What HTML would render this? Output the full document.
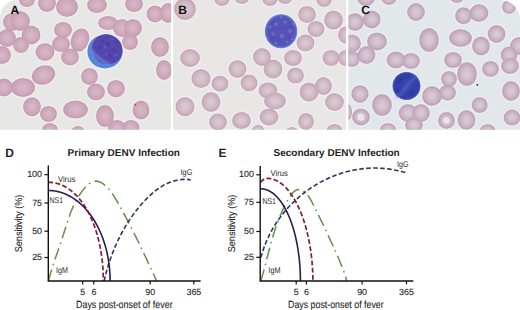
<!DOCTYPE html>
<html><head><meta charset="utf-8"><style>
html,body{margin:0;padding:0;background:#fff;width:520px;height:310px;overflow:hidden}
svg{display:block}
</style></head><body>
<svg width="520" height="310" viewBox="0 0 520 310" font-family="'Liberation Sans', sans-serif" text-rendering="geometricPrecision">
<defs>
<filter id="soft" x="-5%" y="-5%" width="110%" height="110%"><feGaussianBlur stdDeviation="0.45"/></filter>
<filter id="blur1" x="-20%" y="-20%" width="140%" height="140%"><feGaussianBlur stdDeviation="1"/></filter>
<filter id="soft2" x="-10%" y="-10%" width="120%" height="120%"><feGaussianBlur stdDeviation="0.6"/></filter>
<radialGradient id="rbcA" cx="50%" cy="50%" r="50%">
<stop offset="0" stop-color="#d8bac8"/><stop offset="0.45" stop-color="#d2afc0"/><stop offset="0.78" stop-color="#cba5b8"/><stop offset="0.93" stop-color="#c49bb1"/><stop offset="1" stop-color="#cfb1c1"/>
</radialGradient>
<radialGradient id="rbc" cx="50%" cy="50%" r="50%">
<stop offset="0" stop-color="#dccdd3"/><stop offset="0.45" stop-color="#d4bfc9"/><stop offset="0.78" stop-color="#cbb0bf"/><stop offset="0.93" stop-color="#c4a6b9"/><stop offset="1" stop-color="#cfbcc8"/>
</radialGradient>
<radialGradient id="rbcC" cx="50%" cy="50%" r="50%">
<stop offset="0" stop-color="#dacdd6"/><stop offset="0.45" stop-color="#d1bfcc"/><stop offset="0.75" stop-color="#c7adc0"/><stop offset="0.9" stop-color="#c0a2b8"/><stop offset="1" stop-color="#cab6c6"/>
</radialGradient>
<radialGradient id="lymA" cx="60%" cy="40%" r="60%">
<stop offset="0" stop-color="#5648ae"/><stop offset="0.8" stop-color="#5043a8"/><stop offset="1" stop-color="#4c48b0"/>
</radialGradient>
<radialGradient id="lymB" cx="50%" cy="50%" r="50%">
<stop offset="0" stop-color="#5a54b8"/><stop offset="0.78" stop-color="#5552b6"/><stop offset="0.9" stop-color="#5a64c4"/><stop offset="0.97" stop-color="#7a90da"/><stop offset="1" stop-color="#b8c6ea"/>
</radialGradient>
<radialGradient id="lymC" cx="50%" cy="50%" r="50%">
<stop offset="0" stop-color="#3d48b4"/><stop offset="0.78" stop-color="#343ea8"/><stop offset="0.9" stop-color="#3a46b0"/><stop offset="0.97" stop-color="#6478c8"/><stop offset="1" stop-color="#c0cdea"/>
</radialGradient>
<clipPath id="cA"><path d="M0,18 A18,18 0 0 1 18,0 H171.1 V129.8 H0 Z"/></clipPath>
<clipPath id="cB"><rect x="173.1" y="0" width="172.9" height="129.8"/></clipPath>
<clipPath id="cC"><path d="M348.4,0 H500 A20,20 0 0 1 520,20 V129.8 H348.4 Z"/></clipPath>
</defs>
<rect width="520" height="310" fill="#fff"/>

<g clip-path="url(#cA)"><rect width="520" height="140" fill="#e7e8e6"/>
<g opacity="0.75">
<ellipse cx="27" cy="0" rx="9.3" ry="8.3" fill="#f1eff0"/>
<ellipse cx="47" cy="3" rx="10.3" ry="10.3" fill="#f1eff0"/>
<ellipse cx="67" cy="7" rx="12.3" ry="11.3" fill="#f1eff0"/>
<ellipse cx="12" cy="22" rx="10.3" ry="10.3" fill="#f1eff0"/>
<ellipse cx="20" cy="21" rx="11.3" ry="11.3" fill="#f1eff0"/>
<ellipse cx="7" cy="38" rx="10.3" ry="10.3" fill="#f1eff0"/>
<ellipse cx="31" cy="35" rx="10.8" ry="10.8" fill="#f1eff0"/>
<ellipse cx="21" cy="45" rx="9.3" ry="9.3" fill="#f1eff0"/>
<ellipse cx="2" cy="55" rx="10.3" ry="10.3" fill="#f1eff0"/>
<ellipse cx="45" cy="52" rx="10.8" ry="10.3" fill="#f1eff0"/>
<ellipse cx="63" cy="30" rx="10.3" ry="9.3" fill="#f1eff0"/>
<ellipse cx="61" cy="44" rx="10.3" ry="9.3" fill="#f1eff0"/>
<ellipse cx="80" cy="40" rx="10.3" ry="13.3" fill="#f1eff0" transform="rotate(20 80 40)"/>
<ellipse cx="70" cy="57" rx="10.3" ry="9.8" fill="#f1eff0"/>
<ellipse cx="97" cy="5" rx="11.3" ry="9.3" fill="#f1eff0"/>
<ellipse cx="134" cy="4" rx="10.3" ry="9.3" fill="#f1eff0"/>
<ellipse cx="155" cy="14" rx="9.8" ry="9.8" fill="#f1eff0"/>
<ellipse cx="168" cy="13" rx="9.3" ry="11.3" fill="#f1eff0"/>
<ellipse cx="108" cy="23" rx="11.3" ry="8.3" fill="#f1eff0"/>
<ellipse cx="122" cy="28" rx="10.3" ry="10.3" fill="#f1eff0"/>
<ellipse cx="133" cy="28" rx="10.3" ry="10.3" fill="#f1eff0"/>
<ellipse cx="130" cy="42" rx="9.3" ry="9.3" fill="#f1eff0"/>
<ellipse cx="160" cy="47" rx="10.3" ry="11.3" fill="#f1eff0"/>
<ellipse cx="164" cy="70" rx="9.3" ry="11.3" fill="#f1eff0"/>
<ellipse cx="89.5" cy="76.5" rx="9.8" ry="9.8" fill="#f1eff0"/>
<ellipse cx="96" cy="92" rx="10.3" ry="9.8" fill="#f1eff0"/>
<ellipse cx="116" cy="88.6" rx="10.3" ry="10.0" fill="#f1eff0"/>
<ellipse cx="43.5" cy="75" rx="13.3" ry="10.8" fill="#f1eff0" transform="rotate(-20 43.5 75)"/>
<ellipse cx="4" cy="87.5" rx="10.3" ry="10.3" fill="#f1eff0"/>
<ellipse cx="23" cy="87.5" rx="13.3" ry="10.8" fill="#f1eff0"/>
<ellipse cx="32" cy="106.7" rx="10.3" ry="10.8" fill="#f1eff0"/>
<ellipse cx="48.5" cy="114" rx="9.8" ry="9.3" fill="#f1eff0"/>
<ellipse cx="75.5" cy="109.6" rx="13.8" ry="10.3" fill="#f1eff0"/>
<ellipse cx="50" cy="130" rx="9.3" ry="8.3" fill="#f1eff0"/>
<ellipse cx="78" cy="132" rx="8.3" ry="7.3" fill="#f1eff0"/>
<ellipse cx="141" cy="110" rx="9.8" ry="10.8" fill="#f1eff0"/>
<ellipse cx="105" cy="116" rx="10.3" ry="12.3" fill="#f1eff0"/>
<ellipse cx="117" cy="128" rx="10.3" ry="9.3" fill="#f1eff0"/>
<ellipse cx="131" cy="128" rx="9.8" ry="9.3" fill="#f1eff0"/>
</g><g filter="url(#soft)">
<ellipse cx="27" cy="0" rx="8" ry="7" fill="url(#rbcA)"/>
<ellipse cx="47" cy="3" rx="9" ry="9" fill="url(#rbcA)"/>
<ellipse cx="67" cy="7" rx="11" ry="10" fill="url(#rbcA)"/>
<ellipse cx="12" cy="22" rx="9" ry="9" fill="url(#rbcA)"/>
<ellipse cx="20" cy="21" rx="10" ry="10" fill="url(#rbcA)"/>
<ellipse cx="7" cy="38" rx="9" ry="9" fill="url(#rbcA)"/>
<ellipse cx="31" cy="35" rx="9.5" ry="9.5" fill="url(#rbcA)"/>
<ellipse cx="21" cy="45" rx="8" ry="8" fill="url(#rbcA)"/>
<ellipse cx="2" cy="55" rx="9" ry="9" fill="url(#rbcA)"/>
<ellipse cx="45" cy="52" rx="9.5" ry="9" fill="url(#rbcA)"/>
<ellipse cx="63" cy="30" rx="9" ry="8" fill="url(#rbcA)"/>
<ellipse cx="61" cy="44" rx="9" ry="8" fill="url(#rbcA)"/>
<ellipse cx="80" cy="40" rx="9" ry="12" fill="url(#rbcA)" transform="rotate(20 80 40)"/>
<ellipse cx="70" cy="57" rx="9" ry="8.5" fill="url(#rbcA)"/>
<ellipse cx="97" cy="5" rx="10" ry="8" fill="url(#rbcA)"/>
<ellipse cx="134" cy="4" rx="9" ry="8" fill="url(#rbcA)"/>
<ellipse cx="155" cy="14" rx="8.5" ry="8.5" fill="url(#rbcA)"/>
<ellipse cx="168" cy="13" rx="8" ry="10" fill="url(#rbcA)"/>
<ellipse cx="108" cy="23" rx="10" ry="7" fill="url(#rbcA)"/>
<ellipse cx="122" cy="28" rx="9" ry="9" fill="url(#rbcA)"/>
<ellipse cx="133" cy="28" rx="9" ry="9" fill="url(#rbcA)"/>
<ellipse cx="130" cy="42" rx="8" ry="8" fill="url(#rbcA)"/>
<ellipse cx="160" cy="47" rx="9" ry="10" fill="url(#rbcA)"/>
<ellipse cx="164" cy="70" rx="8" ry="10" fill="url(#rbcA)"/>
<ellipse cx="89.5" cy="76.5" rx="8.5" ry="8.5" fill="url(#rbcA)"/>
<ellipse cx="96" cy="92" rx="9" ry="8.5" fill="url(#rbcA)"/>
<ellipse cx="116" cy="88.6" rx="9" ry="8.7" fill="url(#rbcA)"/>
<ellipse cx="43.5" cy="75" rx="12" ry="9.5" fill="url(#rbcA)" transform="rotate(-20 43.5 75)"/>
<ellipse cx="4" cy="87.5" rx="9" ry="9" fill="url(#rbcA)"/>
<ellipse cx="23" cy="87.5" rx="12" ry="9.5" fill="url(#rbcA)"/>
<ellipse cx="32" cy="106.7" rx="9" ry="9.5" fill="url(#rbcA)"/>
<ellipse cx="48.5" cy="114" rx="8.5" ry="8" fill="url(#rbcA)"/>
<ellipse cx="75.5" cy="109.6" rx="12.5" ry="9" fill="url(#rbcA)"/>
<ellipse cx="50" cy="130" rx="8" ry="7" fill="url(#rbcA)"/>
<ellipse cx="78" cy="132" rx="7" ry="6" fill="url(#rbcA)"/>
<ellipse cx="141" cy="110" rx="8.5" ry="9.5" fill="url(#rbcA)"/>
<ellipse cx="105" cy="116" rx="9" ry="11" fill="url(#rbcA)"/>
<ellipse cx="117" cy="128" rx="9" ry="8" fill="url(#rbcA)"/>
<ellipse cx="131" cy="128" rx="8.5" ry="8" fill="url(#rbcA)"/>
</g>
<g filter="url(#soft)">
<ellipse cx="105" cy="51.5" rx="19" ry="18.2" fill="#f0f2f6"/>
<ellipse cx="105" cy="51.5" rx="17.6" ry="16.9" fill="#5a82d8"/>
</g>
<g filter="url(#soft)">
<ellipse cx="107.3" cy="49.3" rx="15.6" ry="14.6" transform="rotate(40 107.3 49.3)" fill="#5346ac"/>
<path d="M91.5,50 Q97,59 110,65" stroke="#6690dc" stroke-width="2.4" fill="none" opacity="0.85" filter="url(#blur1)"/>
<g fill="#44389a" opacity="0.6"><circle cx="108" cy="44" r="2"/><circle cx="114" cy="50" r="1.8"/><circle cx="102" cy="41" r="1.6"/><circle cx="110" cy="56" r="2"/><circle cx="100" cy="48" r="1.5"/><circle cx="117" cy="43" r="1.4"/></g>
<g fill="#6c62c4" opacity="0.6"><circle cx="105" cy="47" r="1.5"/><circle cx="112" cy="39" r="1.3"/><circle cx="116" cy="55" r="1.3"/><circle cx="106" cy="54" r="1.4"/></g>
</g>
</g>
<g clip-path="url(#cB)"><rect width="520" height="140" fill="#e9e7e5"/>
<g opacity="0.75">
<ellipse cx="185" cy="9" rx="12.3" ry="12.3" fill="#f1eff0"/>
<ellipse cx="222" cy="-2" rx="9.3" ry="9.3" fill="#f1eff0"/>
<ellipse cx="242" cy="-4" rx="9.3" ry="9.3" fill="#f1eff0"/>
<ellipse cx="190" cy="58" rx="11.3" ry="10.3" fill="#f1eff0"/>
<ellipse cx="237.5" cy="69" rx="10.3" ry="10.3" fill="#f1eff0"/>
<ellipse cx="262" cy="57" rx="10.3" ry="10.3" fill="#f1eff0"/>
<ellipse cx="270" cy="-2" rx="9.3" ry="9.3" fill="#f1eff0"/>
<ellipse cx="285" cy="-4" rx="9.3" ry="9.3" fill="#f1eff0"/>
<ellipse cx="324" cy="-1" rx="9.3" ry="9.3" fill="#f1eff0"/>
<ellipse cx="307" cy="14.5" rx="10.3" ry="9.8" fill="#f1eff0"/>
<ellipse cx="316" cy="29" rx="9.8" ry="9.3" fill="#f1eff0"/>
<ellipse cx="333.5" cy="20" rx="10.8" ry="10.8" fill="#f1eff0"/>
<ellipse cx="347" cy="35" rx="10.3" ry="10.3" fill="#f1eff0"/>
<ellipse cx="305.5" cy="43" rx="10.3" ry="9.8" fill="#f1eff0"/>
<ellipse cx="273" cy="69" rx="10.8" ry="10.8" fill="#f1eff0"/>
<ellipse cx="293" cy="58" rx="10.3" ry="9.3" fill="#f1eff0"/>
<ellipse cx="295.5" cy="75.5" rx="9.8" ry="9.3" fill="#f1eff0"/>
<ellipse cx="331" cy="58" rx="9.8" ry="9.3" fill="#f1eff0"/>
<ellipse cx="346" cy="58" rx="9.3" ry="9.3" fill="#f1eff0"/>
<ellipse cx="201" cy="78.5" rx="10.9" ry="10.9" fill="#f1eff0"/>
<ellipse cx="220" cy="83.7" rx="9.8" ry="9.3" fill="#f1eff0"/>
<ellipse cx="249" cy="83" rx="9.8" ry="9.8" fill="#f1eff0"/>
<ellipse cx="211" cy="102" rx="10.8" ry="11.3" fill="#f1eff0"/>
<ellipse cx="185" cy="106.7" rx="10.9" ry="10.9" fill="#f1eff0"/>
<ellipse cx="218" cy="122" rx="10.3" ry="9.8" fill="#f1eff0"/>
<ellipse cx="241.5" cy="120.5" rx="10.8" ry="9.8" fill="#f1eff0"/>
<ellipse cx="268" cy="90.5" rx="10.8" ry="9.3" fill="#f1eff0"/>
<ellipse cx="275" cy="101" rx="12.3" ry="9.8" fill="#f1eff0"/>
<ellipse cx="269" cy="117" rx="10.8" ry="9.8" fill="#f1eff0"/>
<ellipse cx="309" cy="92" rx="10.8" ry="10.8" fill="#f1eff0"/>
<ellipse cx="323.5" cy="86" rx="9.8" ry="10.3" fill="#f1eff0"/>
<ellipse cx="334.5" cy="102" rx="10.8" ry="10.3" fill="#f1eff0"/>
<ellipse cx="306" cy="121.5" rx="9.3" ry="9.8" fill="#f1eff0"/>
<ellipse cx="334.5" cy="131" rx="9.3" ry="8.3" fill="#f1eff0"/>
<ellipse cx="292" cy="133" rx="8.3" ry="7.3" fill="#f1eff0"/>
<ellipse cx="258" cy="130" rx="7.3" ry="6.3" fill="#f1eff0"/>
</g><g filter="url(#soft)">
<ellipse cx="185" cy="9" rx="11" ry="11" fill="url(#rbc)"/>
<ellipse cx="222" cy="-2" rx="8" ry="8" fill="url(#rbc)"/>
<ellipse cx="242" cy="-4" rx="8" ry="8" fill="url(#rbc)"/>
<ellipse cx="190" cy="58" rx="10" ry="9" fill="url(#rbc)"/>
<ellipse cx="237.5" cy="69" rx="9" ry="9" fill="url(#rbc)"/>
<ellipse cx="262" cy="57" rx="9" ry="9" fill="url(#rbc)"/>
<ellipse cx="270" cy="-2" rx="8" ry="8" fill="url(#rbc)"/>
<ellipse cx="285" cy="-4" rx="8" ry="8" fill="url(#rbc)"/>
<ellipse cx="324" cy="-1" rx="8" ry="8" fill="url(#rbc)"/>
<ellipse cx="307" cy="14.5" rx="9" ry="8.5" fill="url(#rbc)"/>
<ellipse cx="316" cy="29" rx="8.5" ry="8" fill="url(#rbc)"/>
<ellipse cx="333.5" cy="20" rx="9.5" ry="9.5" fill="url(#rbc)"/>
<ellipse cx="347" cy="35" rx="9" ry="9" fill="url(#rbc)"/>
<ellipse cx="305.5" cy="43" rx="9" ry="8.5" fill="url(#rbc)"/>
<ellipse cx="273" cy="69" rx="9.5" ry="9.5" fill="url(#rbc)"/>
<ellipse cx="293" cy="58" rx="9" ry="8" fill="url(#rbc)"/>
<ellipse cx="295.5" cy="75.5" rx="8.5" ry="8" fill="url(#rbc)"/>
<ellipse cx="331" cy="58" rx="8.5" ry="8" fill="url(#rbc)"/>
<ellipse cx="346" cy="58" rx="8" ry="8" fill="url(#rbc)"/>
<ellipse cx="201" cy="78.5" rx="9.6" ry="9.6" fill="url(#rbc)"/>
<ellipse cx="220" cy="83.7" rx="8.5" ry="8" fill="url(#rbc)"/>
<ellipse cx="249" cy="83" rx="8.5" ry="8.5" fill="url(#rbc)"/>
<ellipse cx="211" cy="102" rx="9.5" ry="10" fill="url(#rbc)"/>
<ellipse cx="185" cy="106.7" rx="9.6" ry="9.6" fill="url(#rbc)"/>
<ellipse cx="218" cy="122" rx="9" ry="8.5" fill="url(#rbc)"/>
<ellipse cx="241.5" cy="120.5" rx="9.5" ry="8.5" fill="url(#rbc)"/>
<ellipse cx="268" cy="90.5" rx="9.5" ry="8" fill="url(#rbc)"/>
<ellipse cx="275" cy="101" rx="11" ry="8.5" fill="url(#rbc)"/>
<ellipse cx="269" cy="117" rx="9.5" ry="8.5" fill="url(#rbc)"/>
<ellipse cx="309" cy="92" rx="9.5" ry="9.5" fill="url(#rbc)"/>
<ellipse cx="323.5" cy="86" rx="8.5" ry="9" fill="url(#rbc)"/>
<ellipse cx="334.5" cy="102" rx="9.5" ry="9" fill="url(#rbc)"/>
<ellipse cx="306" cy="121.5" rx="8" ry="8.5" fill="url(#rbc)"/>
<ellipse cx="334.5" cy="131" rx="8" ry="7" fill="url(#rbc)"/>
<ellipse cx="292" cy="133" rx="7" ry="6" fill="url(#rbc)"/>
<ellipse cx="258" cy="130" rx="6" ry="5" fill="url(#rbc)"/>
</g>
<g filter="url(#soft)">
<ellipse cx="281.1" cy="31.3" rx="17.4" ry="18.2" fill="#eef1f8"/>
<ellipse cx="281.1" cy="31.3" rx="16.5" ry="17.3" fill="url(#lymB)"/>
</g><g filter="url(#soft2)"><g fill="#7a7ad0" opacity="0.6"><circle cx="276" cy="24" r="2"/><circle cx="285" cy="22" r="1.8"/><circle cx="290" cy="31" r="2"/><circle cx="282" cy="36" r="2.2"/><circle cx="273" cy="34" r="1.8"/><circle cx="287" cy="42" r="1.6"/><circle cx="276" cy="43" r="1.5"/><circle cx="270" cy="27" r="1.4"/><circle cx="281" cy="17.5" r="1.3"/><circle cx="293" cy="24" r="1.3"/><circle cx="268" cy="38" r="1.2"/><circle cx="292" cy="39" r="1.3"/></g>
<g fill="#5a3fa8" opacity="0.55"><circle cx="280" cy="29" r="2"/><circle cx="289" cy="37" r="1.8"/><circle cx="272" cy="39" r="1.6"/><circle cx="284" cy="27" r="1.5"/><circle cx="278" cy="40" r="1.4"/><circle cx="291" cy="27" r="1.4"/><circle cx="274" cy="22" r="1.2"/></g>
</g>
</g>
<g clip-path="url(#cC)"><rect width="520" height="140" fill="#e2e7e9"/>
<g opacity="0.75">
<ellipse cx="366" cy="-2" rx="10.3" ry="9.3" fill="#eef1f3"/>
<ellipse cx="389" cy="-3" rx="9.3" ry="9.3" fill="#eef1f3"/>
<ellipse cx="416" cy="12" rx="10.3" ry="10.3" fill="#eef1f3"/>
<ellipse cx="355" cy="22" rx="10.3" ry="10.3" fill="#eef1f3"/>
<ellipse cx="371.7" cy="19.4" rx="10.3" ry="10.3" fill="#eef1f3"/>
<ellipse cx="352" cy="43.5" rx="10.3" ry="10.3" fill="#eef1f3"/>
<ellipse cx="377" cy="41.4" rx="11.3" ry="10.3" fill="#eef1f3"/>
<ellipse cx="366.5" cy="55" rx="10.3" ry="10.3" fill="#eef1f3"/>
<ellipse cx="352" cy="59" rx="9.3" ry="9.3" fill="#eef1f3"/>
<ellipse cx="396" cy="60" rx="10.8" ry="9.8" fill="#eef1f3"/>
<ellipse cx="411" cy="61" rx="10.3" ry="9.3" fill="#eef1f3"/>
<ellipse cx="429" cy="40" rx="11.3" ry="13.3" fill="#eef1f3"/>
<ellipse cx="457" cy="-5" rx="9.3" ry="9.3" fill="#eef1f3"/>
<ellipse cx="463.5" cy="15.7" rx="9.8" ry="9.8" fill="#eef1f3"/>
<ellipse cx="479" cy="13" rx="10.8" ry="10.3" fill="#eef1f3"/>
<ellipse cx="509" cy="7" rx="8.3" ry="8.3" fill="#eef1f3"/>
<ellipse cx="460.5" cy="38" rx="12.8" ry="10.3" fill="#eef1f3"/>
<ellipse cx="481" cy="46" rx="10.3" ry="10.8" fill="#eef1f3"/>
<ellipse cx="496.6" cy="34" rx="10.3" ry="10.3" fill="#eef1f3"/>
<ellipse cx="519" cy="46" rx="10.3" ry="10.3" fill="#eef1f3"/>
<ellipse cx="509" cy="55" rx="9.8" ry="9.8" fill="#eef1f3"/>
<ellipse cx="453" cy="60" rx="10.3" ry="9.3" fill="#eef1f3"/>
<ellipse cx="467" cy="74" rx="11.3" ry="13.3" fill="#eef1f3"/>
<ellipse cx="490.5" cy="69" rx="9.8" ry="9.3" fill="#eef1f3"/>
<ellipse cx="510" cy="66" rx="10.3" ry="9.3" fill="#eef1f3"/>
<ellipse cx="449" cy="79" rx="9.3" ry="9.3" fill="#eef1f3"/>
<ellipse cx="447.5" cy="92.7" rx="9.8" ry="9.3" fill="#eef1f3"/>
<ellipse cx="432" cy="96" rx="11.3" ry="11.3" fill="#eef1f3"/>
<ellipse cx="479.7" cy="105" rx="9.3" ry="9.3" fill="#eef1f3"/>
<ellipse cx="511" cy="91" rx="10.3" ry="11.3" fill="#eef1f3"/>
<ellipse cx="446.5" cy="120.5" rx="9.8" ry="9.8" fill="#eef1f3"/>
<ellipse cx="466.5" cy="120" rx="10.3" ry="11.3" fill="#eef1f3"/>
<ellipse cx="487.6" cy="131" rx="9.3" ry="8.3" fill="#eef1f3"/>
<ellipse cx="512" cy="117.6" rx="9.8" ry="9.3" fill="#eef1f3"/>
<ellipse cx="360" cy="94" rx="10.0" ry="10.3" fill="#eef1f3"/>
<ellipse cx="382" cy="105" rx="11.3" ry="12.3" fill="#eef1f3"/>
<ellipse cx="361" cy="117" rx="10.3" ry="9.8" fill="#eef1f3"/>
<ellipse cx="388" cy="129" rx="9.3" ry="7.3" fill="#eef1f3"/>
<ellipse cx="408" cy="113" rx="10.8" ry="10.3" fill="#eef1f3"/>
<ellipse cx="421" cy="113" rx="10.3" ry="10.3" fill="#eef1f3"/>
<ellipse cx="414" cy="125" rx="10.3" ry="9.3" fill="#eef1f3"/>
<ellipse cx="348" cy="112" rx="5.3" ry="9.3" fill="#eef1f3"/>
</g><g filter="url(#soft)">
<ellipse cx="366" cy="-2" rx="9" ry="8" fill="url(#rbcC)"/>
<ellipse cx="389" cy="-3" rx="8" ry="8" fill="url(#rbcC)"/>
<ellipse cx="416" cy="12" rx="9" ry="9" fill="url(#rbcC)"/>
<ellipse cx="355" cy="22" rx="9" ry="9" fill="url(#rbcC)"/>
<ellipse cx="371.7" cy="19.4" rx="9" ry="9" fill="url(#rbcC)"/>
<ellipse cx="352" cy="43.5" rx="9" ry="9" fill="url(#rbcC)"/>
<ellipse cx="377" cy="41.4" rx="10" ry="9" fill="url(#rbcC)"/>
<ellipse cx="366.5" cy="55" rx="9" ry="9" fill="url(#rbcC)"/>
<ellipse cx="352" cy="59" rx="8" ry="8" fill="url(#rbcC)"/>
<ellipse cx="396" cy="60" rx="9.5" ry="8.5" fill="url(#rbcC)"/>
<ellipse cx="411" cy="61" rx="9" ry="8" fill="url(#rbcC)"/>
<ellipse cx="429" cy="40" rx="10" ry="12" fill="url(#rbcC)"/>
<ellipse cx="457" cy="-5" rx="8" ry="8" fill="url(#rbcC)"/>
<ellipse cx="463.5" cy="15.7" rx="8.5" ry="8.5" fill="url(#rbcC)"/>
<ellipse cx="479" cy="13" rx="9.5" ry="9" fill="url(#rbcC)"/>
<ellipse cx="509" cy="7" rx="7" ry="7" fill="url(#rbcC)"/>
<ellipse cx="460.5" cy="38" rx="11.5" ry="9" fill="url(#rbcC)"/>
<ellipse cx="481" cy="46" rx="9" ry="9.5" fill="url(#rbcC)"/>
<ellipse cx="496.6" cy="34" rx="9" ry="9" fill="url(#rbcC)"/>
<ellipse cx="519" cy="46" rx="9" ry="9" fill="url(#rbcC)"/>
<ellipse cx="509" cy="55" rx="8.5" ry="8.5" fill="url(#rbcC)"/>
<ellipse cx="453" cy="60" rx="9" ry="8" fill="url(#rbcC)"/>
<ellipse cx="467" cy="74" rx="10" ry="12" fill="url(#rbcC)"/>
<ellipse cx="490.5" cy="69" rx="8.5" ry="8" fill="url(#rbcC)"/>
<ellipse cx="510" cy="66" rx="9" ry="8" fill="url(#rbcC)"/>
<ellipse cx="449" cy="79" rx="8" ry="8" fill="url(#rbcC)"/>
<ellipse cx="447.5" cy="92.7" rx="8.5" ry="8" fill="url(#rbcC)"/>
<ellipse cx="432" cy="96" rx="10" ry="10" fill="url(#rbcC)"/>
<ellipse cx="479.7" cy="105" rx="8" ry="8" fill="url(#rbcC)"/>
<ellipse cx="511" cy="91" rx="9" ry="10" fill="url(#rbcC)"/>
<ellipse cx="446.5" cy="120.5" rx="8.5" ry="8.5" fill="url(#rbcC)"/>
<ellipse cx="466.5" cy="120" rx="9" ry="10" fill="url(#rbcC)"/>
<ellipse cx="487.6" cy="131" rx="8" ry="7" fill="url(#rbcC)"/>
<ellipse cx="512" cy="117.6" rx="8.5" ry="8" fill="url(#rbcC)"/>
<ellipse cx="360" cy="94" rx="8.7" ry="9" fill="url(#rbcC)"/>
<ellipse cx="382" cy="105" rx="10" ry="11" fill="url(#rbcC)"/>
<ellipse cx="361" cy="117" rx="9" ry="8.5" fill="url(#rbcC)"/>
<ellipse cx="388" cy="129" rx="8" ry="6" fill="url(#rbcC)"/>
<ellipse cx="408" cy="113" rx="9.5" ry="9" fill="url(#rbcC)"/>
<ellipse cx="421" cy="113" rx="9" ry="9" fill="url(#rbcC)"/>
<ellipse cx="414" cy="125" rx="9" ry="8" fill="url(#rbcC)"/>
<ellipse cx="348" cy="112" rx="4" ry="8" fill="url(#rbcC)"/>
</g>
<g filter="url(#soft)">
<ellipse cx="406.5" cy="86" rx="15.2" ry="15.2" fill="#eef2f8"/>
<ellipse cx="406.5" cy="86" rx="14.3" ry="14.3" fill="url(#lymC)"/>
</g><g filter="url(#blur1)">
<path d="M416,76 Q409,82 404,90 Q401,95 396,97" stroke="#5a6cd0" stroke-width="3" fill="none" opacity="0.5"/>
<g fill="#2a3290" opacity="0.55"><circle cx="400" cy="80" r="3"/><circle cx="412" cy="93" r="3"/><circle cx="398" cy="90" r="2.2"/><circle cx="408" cy="77" r="2"/></g>
</g>
<g filter="url(#soft2)" fill="#e9ecee" opacity="0.85"><circle cx="360.8" cy="117.2" r="3.6"/><circle cx="446.3" cy="120.6" r="3.4"/></g>
</g>
<circle cx="135.2" cy="104.7" r="0.8" fill="#6a4a70"/><circle cx="477.4" cy="84.8" r="0.9" fill="#2a2030"/>
<g font-weight="bold" font-size="12" fill="#111">
<text x="10.5" y="13.7">A</text><text x="178.2" y="13.8">B</text><text x="361.3" y="13.8">C</text>
</g>
<g fill="#1e1e1e" stroke="#1e1e1e" stroke-width="0.1">
<text x="5.3" y="156.6" font-weight="bold" font-size="12" stroke="none">D</text>
<text x="67.6" y="155.9" font-weight="bold" font-size="10" stroke="none">Primary DENV Infection</text>
<path d="M48.30,281.00 L49.17,278.16 L49.99,275.27 L50.83,272.40 L51.71,269.56 L52.60,266.73 L53.51,263.91 L54.44,261.11 L55.37,258.32 L56.32,255.53 L57.28,252.75 L58.23,249.97 L59.19,247.19 L60.14,244.41 L61.08,241.62 L62.02,238.82 L62.94,236.01 L63.85,233.18 L64.74,230.34 L65.64,227.50 L66.54,224.65 L67.46,221.81 L68.40,218.97 L69.38,216.15 L70.40,213.35 L71.48,210.57 L72.62,207.82 L73.84,205.11 L75.14,202.44 L76.52,199.81 L78.01,197.23 L79.61,194.71 L81.32,192.24 L83.17,189.85 L85.15,187.53 L87.26,185.40 L89.48,183.57 L91.80,182.17 L94.20,181.31 L96.69,181.13 L99.22,181.71 L101.73,182.93 L104.12,184.56 L106.34,186.45 L108.41,188.56 L110.34,190.87 L112.15,193.32 L113.86,195.89 L115.49,198.54 L117.06,201.25 L118.58,203.96 L120.08,206.66 L121.55,209.35 L123.00,212.02 L124.43,214.67 L125.84,217.31 L127.22,219.94 L128.59,222.56 L129.94,225.18 L131.28,227.78 L132.60,230.38 L133.91,232.98 L135.21,235.58 L136.49,238.18 L137.77,240.78 L139.04,243.38 L140.31,245.99 L141.57,248.60 L142.82,251.23 L144.07,253.86 L145.32,256.51 L146.58,259.16 L147.83,261.84 L149.08,264.53 L150.34,267.23 L151.61,269.96 L152.88,272.71 L154.16,275.48 L155.45,278.27 L156.50,281.00" fill="none" stroke="#64904c" stroke-width="1.5" stroke-dasharray="12 4.5 1.5 4.5"/>
<path d="M104.20,281.00 L104.63,278.98 L105.03,277.27 L105.44,275.57 L105.87,273.86 L106.32,272.16 L106.79,270.45 L107.27,268.74 L107.78,267.03 L108.30,265.32 L108.83,263.61 L109.39,261.90 L109.96,260.19 L110.55,258.48 L111.16,256.78 L111.79,255.07 L112.43,253.38 L113.09,251.68 L113.77,249.99 L114.47,248.30 L115.18,246.62 L115.91,244.94 L116.66,243.27 L117.43,241.60 L118.21,239.94 L119.02,238.29 L119.84,236.65 L120.67,235.01 L121.53,233.38 L122.40,231.76 L123.30,230.15 L124.20,228.54 L125.13,226.95 L126.08,225.37 L127.04,223.80 L128.02,222.24 L129.02,220.69 L130.04,219.15 L131.07,217.62 L132.12,216.11 L133.19,214.61 L134.28,213.13 L135.39,211.66 L136.51,210.20 L137.66,208.76 L138.82,207.34 L140.00,205.93 L141.19,204.54 L142.41,203.16 L143.64,201.80 L144.89,200.46 L146.16,199.14 L147.45,197.84 L148.75,196.56 L150.08,195.31 L151.43,194.10 L152.80,192.91 L154.18,191.75 L155.59,190.64 L157.02,189.56 L158.48,188.52 L159.95,187.52 L161.45,186.57 L162.97,185.67 L164.51,184.82 L166.08,184.02 L167.67,183.27 L169.29,182.58 L170.93,181.95 L172.60,181.38 L174.29,180.88 L176.01,180.44 L177.75,180.07 L179.52,179.77 L181.32,179.55 L183.15,179.40 L185.00,179.33 L186.89,179.33 L188.80,179.42 L190.60,180.30" fill="none" stroke="#283a5c" stroke-width="1.6" stroke-dasharray="4.6 2.4"/>
<path d="M48.30,190.50 L49.92,190.53 L51.53,190.62 L53.15,190.78 L54.76,191.00 L56.37,191.27 L57.97,191.61 L59.56,192.02 L61.15,192.48 L62.73,193.00 L64.30,193.58 L65.85,194.23 L67.40,194.93 L68.93,195.69 L70.45,196.51 L71.95,197.39 L73.44,198.32 L74.91,199.32 L76.36,200.36 L77.79,201.47 L79.20,202.62 L80.59,203.84 L81.96,205.10 L83.30,206.42 L84.63,207.78 L85.92,209.20 L87.19,210.67 L88.44,212.18 L89.65,213.75 L90.84,215.35 L92.00,217.01 L93.13,218.70 L94.23,220.44 L95.29,222.22 L96.33,224.05 L97.33,225.91 L98.30,227.81 L99.23,229.74 L100.13,231.71 L100.99,233.71 L101.82,235.75 L102.61,237.82 L103.36,239.91 L104.08,242.04 L104.76,244.19 L105.40,246.37 L106.00,248.57 L106.56,250.79 L107.08,253.03 L107.56,255.30 L107.99,257.58 L108.39,259.87 L108.75,262.18 L109.07,264.51 L109.34,266.84 L109.57,269.19 L109.76,271.54 L109.91,273.90 L110.02,276.26 L110.08,278.63 L110.10,281.00" fill="none" stroke="#2e1c4e" stroke-width="1.6"/>
<path d="M48.30,182.30 L49.85,182.33 L51.35,182.43 L52.84,182.60 L54.31,182.83 L55.77,183.13 L57.22,183.49 L58.66,183.92 L60.09,184.41 L61.51,184.97 L62.92,185.60 L64.31,186.29 L65.69,187.04 L67.06,187.85 L68.41,188.73 L69.75,189.67 L71.07,190.67 L72.37,191.74 L73.66,192.86 L74.93,194.04 L76.18,195.28 L77.41,196.58 L78.61,197.94 L79.80,199.35 L80.97,200.82 L82.11,202.34 L83.23,203.92 L84.32,205.54 L85.39,207.22 L86.44,208.95 L87.46,210.73 L88.45,212.56 L89.41,214.43 L90.35,216.35 L91.25,218.32 L92.13,220.33 L92.98,222.38 L93.80,224.47 L94.59,226.60 L95.34,228.77 L96.07,230.97 L96.76,233.22 L97.42,235.49 L98.04,237.80 L98.63,240.14 L99.19,242.51 L99.72,244.91 L100.21,247.34 L100.66,249.79 L101.08,252.27 L101.46,254.77 L101.81,257.29 L102.12,259.84 L102.40,262.40 L102.64,264.99 L102.84,267.59 L103.00,270.22 L103.13,272.86 L103.23,275.53 L103.28,278.23 L103.30,281.00" fill="none" stroke="#8a183a" stroke-width="1.7" stroke-dasharray="4.8 2.4"/>
<path d="M48.3,165.5 V281 H200.6" fill="none" stroke="#111" stroke-width="1.4"/>
<path d="M44.4,174.7 H48.3" stroke="#111" stroke-width="1.2"/>
<path d="M44.4,203 H48.3" stroke="#111" stroke-width="1.2"/>
<path d="M44.4,231.2 H48.3" stroke="#111" stroke-width="1.2"/>
<path d="M44.4,257.5 H48.3" stroke="#111" stroke-width="1.2"/>
<path d="M82.7,281 V284.4" stroke="#111" stroke-width="1.2"/>
<path d="M93.8,281 V284.4" stroke="#111" stroke-width="1.2"/>
<path d="M150.2,281 V284.4" stroke="#111" stroke-width="1.2"/>
<path d="M193.8,281 V284.4" stroke="#111" stroke-width="1.2"/>
<text x="42.0" y="177.1" font-size="8.9" text-anchor="end">100</text>
<text x="42.0" y="205.7" font-size="8.9" text-anchor="end">75</text>
<text x="42.0" y="234.1" font-size="8.9" text-anchor="end">50</text>
<text x="42.0" y="260.2" font-size="8.9" text-anchor="end">25</text>
<text x="82.7" y="295.2" font-size="8.9" text-anchor="middle">5</text>
<text x="93.9" y="295.2" font-size="8.9" text-anchor="middle">6</text>
<text x="150.2" y="295.2" font-size="8.9" text-anchor="middle">90</text>
<text x="193.9" y="295.2" font-size="8.9" text-anchor="middle">365</text>
<text x="76" y="308.2" font-size="10.4" text-anchor="start" textLength="96.6" lengthAdjust="spacingAndGlyphs">Days post-onset of fever</text>
<text transform="translate(22.3,252.3) rotate(-90)" font-size="10" textLength="57.6" lengthAdjust="spacingAndGlyphs">Sensitivity (%)</text>
<text x="57.9" y="181.9" font-size="8.3" text-anchor="start" textLength="17.4" lengthAdjust="spacingAndGlyphs" fill="#2a2a2a" stroke="none">Virus</text>
<text x="49.5" y="202.9" font-size="8.3" text-anchor="start" textLength="13.5" lengthAdjust="spacingAndGlyphs" fill="#2a2a2a" stroke="none">NS1</text>
<text x="56" y="272.6" font-size="8.3" text-anchor="start" textLength="11.9" lengthAdjust="spacingAndGlyphs" fill="#2a2a2a" stroke="none">IgM</text>
<text x="180.6" y="174.6" font-size="8.3" text-anchor="start" textLength="11.7" lengthAdjust="spacingAndGlyphs" fill="#2a2a2a" stroke="none">IgG</text>
<text x="218.6" y="156.6" font-weight="bold" font-size="12" stroke="none">E</text>
<text x="273.5" y="155.9" font-weight="bold" font-size="10" stroke="none">Secondary DENV Infection</text>
<path d="M260.80,281.00 L261.60,278.55 L262.34,275.96 L263.05,273.38 L263.74,270.81 L264.42,268.24 L265.09,265.68 L265.75,263.14 L266.40,260.59 L267.05,258.06 L267.70,255.53 L268.34,253.01 L269.00,250.50 L269.66,247.99 L270.33,245.48 L271.02,242.98 L271.72,240.49 L272.44,238.00 L273.18,235.51 L273.94,233.03 L274.73,230.55 L275.55,228.08 L276.41,225.60 L277.30,223.13 L278.23,220.66 L279.19,218.20 L280.21,215.73 L281.27,213.27 L282.37,210.81 L283.53,208.34 L284.75,205.88 L286.02,203.42 L287.35,200.95 L288.75,198.50 L290.22,196.14 L291.77,193.98 L293.41,192.13 L295.14,190.69 L296.99,189.76 L298.95,189.47 L301.00,189.84 L303.07,190.79 L305.07,192.24 L306.90,194.09 L308.56,196.25 L310.07,198.63 L311.47,201.15 L312.79,203.73 L314.08,206.28 L315.33,208.78 L316.56,211.25 L317.77,213.69 L318.95,216.10 L320.11,218.48 L321.26,220.84 L322.39,223.18 L323.51,225.50 L324.61,227.82 L325.71,230.13 L326.79,232.44 L327.88,234.75 L328.96,237.06 L330.03,239.39 L331.11,241.73 L332.20,244.09 L333.29,246.47 L334.38,248.87 L335.48,251.31 L336.58,253.76 L337.67,256.23 L338.75,258.71 L339.81,261.21 L340.84,263.71 L341.84,266.20 L342.80,268.70 L343.72,271.19 L344.58,273.67 L345.39,276.13 L346.13,278.57 L346.80,281.00" fill="none" stroke="#64904c" stroke-width="1.5" stroke-dasharray="12 4.5 1.5 4.5"/>
<path d="M260.40,257.50 L261.53,255.51 L262.19,253.19 L262.90,250.90 L263.66,248.62 L264.46,246.36 L265.31,244.13 L266.20,241.91 L267.14,239.72 L268.13,237.55 L269.16,235.40 L270.23,233.28 L271.34,231.17 L272.50,229.10 L273.70,227.05 L274.94,225.02 L276.21,223.02 L277.53,221.04 L278.88,219.10 L280.28,217.18 L281.70,215.29 L283.17,213.42 L284.67,211.59 L286.21,209.79 L287.77,208.01 L289.38,206.27 L291.01,204.56 L292.68,202.88 L294.38,201.23 L296.11,199.62 L297.87,198.04 L299.66,196.49 L301.48,194.98 L303.32,193.50 L305.20,192.06 L307.10,190.66 L309.02,189.29 L310.97,187.96 L312.95,186.66 L314.94,185.41 L316.97,184.20 L319.01,183.02 L321.08,181.88 L323.16,180.79 L325.27,179.73 L327.40,178.72 L329.54,177.75 L331.71,176.83 L333.89,175.94 L336.09,175.10 L338.30,174.31 L340.53,173.55 L342.77,172.85 L345.03,172.19 L347.30,171.58 L349.59,171.01 L351.89,170.49 L354.19,170.02 L356.51,169.60 L358.84,169.23 L361.18,168.91 L363.53,168.64 L365.88,168.42 L368.24,168.25 L370.61,168.13 L372.98,168.06 L375.36,168.05 L377.75,168.09 L380.13,168.19 L382.52,168.34 L384.92,168.55 L387.31,168.81 L389.70,169.13 L392.10,169.50 L394.49,169.93 L396.89,170.42 L399.28,170.97 L401.67,171.58 L404.06,172.25 L406.20,172.30" fill="none" stroke="#283a5c" stroke-width="1.6" stroke-dasharray="4.6 2.4"/>
<path d="M260.40,188.70 L261.45,188.73 L262.49,188.83 L263.54,188.98 L264.58,189.21 L265.62,189.49 L266.66,189.84 L267.69,190.25 L268.72,190.72 L269.74,191.25 L270.75,191.85 L271.76,192.50 L272.76,193.22 L273.75,193.99 L274.73,194.83 L275.71,195.73 L276.67,196.68 L277.62,197.69 L278.56,198.76 L279.49,199.89 L280.40,201.07 L281.30,202.30 L282.19,203.59 L283.06,204.93 L283.91,206.33 L284.75,207.77 L285.57,209.27 L286.38,210.81 L287.17,212.41 L287.93,214.05 L288.68,215.73 L289.41,217.46 L290.13,219.24 L290.82,221.06 L291.49,222.91 L292.13,224.81 L292.76,226.75 L293.37,228.72 L293.95,230.73 L294.51,232.77 L295.04,234.85 L295.55,236.96 L296.04,239.10 L296.50,241.26 L296.94,243.46 L297.36,245.68 L297.74,247.92 L298.11,250.19 L298.44,252.48 L298.75,254.79 L299.04,257.11 L299.29,259.45 L299.53,261.81 L299.73,264.18 L299.91,266.56 L300.06,268.95 L300.18,271.35 L300.28,273.76 L300.35,276.17 L300.39,278.58 L300.40,281.00" fill="none" stroke="#2e1c4e" stroke-width="1.6"/>
<path d="M260.6,182.3 C262.5,179.6 264.8,178.4 267.7,178.4 L268.78,178.44 L269.89,178.54 L271.02,178.72 L272.16,178.98 L273.30,179.30 L274.44,179.70 L275.59,180.16 L276.73,180.70 L277.87,181.31 L279.00,181.98 L280.13,182.73 L281.25,183.55 L282.37,184.43 L283.48,185.38 L284.58,186.40 L285.67,187.49 L286.74,188.64 L287.81,189.85 L288.86,191.13 L289.90,192.47 L290.93,193.88 L291.94,195.34 L292.93,196.86 L293.91,198.44 L294.87,200.08 L295.81,201.78 L296.73,203.53 L297.63,205.33 L298.52,207.19 L299.38,209.09 L300.22,211.05 L301.04,213.05 L301.83,215.10 L302.60,217.19 L303.35,219.33 L304.07,221.51 L304.77,223.73 L305.44,225.98 L306.08,228.28 L306.70,230.60 L307.29,232.96 L307.85,235.35 L308.39,237.77 L308.90,240.22 L309.37,242.69 L309.82,245.19 L310.24,247.70 L310.63,250.24 L310.99,252.79 L311.32,255.35 L311.62,257.93 L311.89,260.51 L312.12,263.10 L312.33,265.70 L312.50,268.29 L312.65,270.88 L312.76,273.46 L312.84,276.02 L312.88,278.55 L312.90,281.00" fill="none" stroke="#8a183a" stroke-width="1.7" stroke-dasharray="4.8 2.4"/>
<path d="M260.2,166 V281 H413.3" fill="none" stroke="#111" stroke-width="1.4"/>
<path d="M256.3,174.8 H260.2" stroke="#111" stroke-width="1.2"/>
<path d="M256.3,202.3 H260.2" stroke="#111" stroke-width="1.2"/>
<path d="M256.3,231.5 H260.2" stroke="#111" stroke-width="1.2"/>
<path d="M256.3,257.3 H260.2" stroke="#111" stroke-width="1.2"/>
<path d="M296.2,281 V284.4" stroke="#111" stroke-width="1.2"/>
<path d="M306.4,281 V284.4" stroke="#111" stroke-width="1.2"/>
<path d="M362.1,281 V284.4" stroke="#111" stroke-width="1.2"/>
<path d="M406.5,281 V284.4" stroke="#111" stroke-width="1.2"/>
<text x="253.89999999999998" y="177.2" font-size="8.9" text-anchor="end">100</text>
<text x="253.89999999999998" y="205" font-size="8.9" text-anchor="end">75</text>
<text x="253.89999999999998" y="234.3" font-size="8.9" text-anchor="end">50</text>
<text x="253.89999999999998" y="260" font-size="8.9" text-anchor="end">25</text>
<text x="296.2" y="295.2" font-size="8.9" text-anchor="middle">5</text>
<text x="306.4" y="295.2" font-size="8.9" text-anchor="middle">6</text>
<text x="362.1" y="295.2" font-size="8.9" text-anchor="middle">90</text>
<text x="406.5" y="295.2" font-size="8.9" text-anchor="middle">365</text>
<text x="288" y="308.2" font-size="10.4" text-anchor="start" textLength="95.7" lengthAdjust="spacingAndGlyphs">Days post-onset of fever</text>
<text transform="translate(234.7,252.3) rotate(-90)" font-size="10" textLength="57.6" lengthAdjust="spacingAndGlyphs">Sensitivity (%)</text>
<text x="270.5" y="175.6" font-size="8.3" text-anchor="start" textLength="17.4" lengthAdjust="spacingAndGlyphs" fill="#2a2a2a" stroke="none">Virus</text>
<text x="262.4" y="203.7" font-size="8.3" text-anchor="start" textLength="13.5" lengthAdjust="spacingAndGlyphs" fill="#2a2a2a" stroke="none">NS1</text>
<text x="268.6" y="272.8" font-size="8.3" text-anchor="start" textLength="12.0" lengthAdjust="spacingAndGlyphs" fill="#2a2a2a" stroke="none">IgM</text>
<text x="397" y="166.6" font-size="8.3" text-anchor="start" textLength="11.5" lengthAdjust="spacingAndGlyphs" fill="#2a2a2a" stroke="none">IgG</text>
</g>
</svg>
</body></html>
